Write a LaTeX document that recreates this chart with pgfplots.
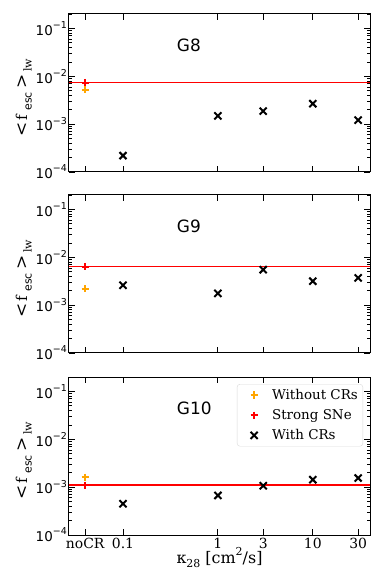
\documentclass[border=0pt]{standalone}
\usepackage{fontspec}
\setmainfont{DejaVu Serif}
\setsansfont{DejaVu Sans}
\usepackage{pgfplots}
\pgfplotsset{compat=1.18}
\definecolor{mplorange}{RGB}{255,165,0}
\newcommand{\ylabtick}{\mbox{\sffamily\fontsize{13.5}{14}\selectfont 10\raisebox{0.5em}{\fontsize{9.5}{10}\selectfont −\ifcase\ticknum\relax 4\or 3\or 2\or 1\fi}}}
\newcommand{\xt}[1]{\mbox{\fontsize{14}{14}\selectfont #1}}
\newcommand{\lowsub}[1]{\raisebox{-0.3em}{\fontsize{11}{11}\selectfont #1}}
\newcommand{\highsup}[1]{\raisebox{0.45em}{\fontsize{11}{11}\selectfont #1}}
\newcommand{\ylab}{{\fontsize{17}{17}\selectfont <}\hspace{2bp}f\hspace{4bp}\lowsub{\sffamily esc}\hspace{4bp}{\fontsize{17}{17}\selectfont >}\hspace{2bp}\lowsub{lw}}

\pgfplotsset{
  every axis/.append style={
    scale only axis, width=301bp, height=158bp,
    xmin=0.027, xmax=40, ymin=1e-4, ymax=0.2,
    xtick={0.04,0.1,1,3,10,30}, minor xtick={},
    ytick={1e-4,1e-3,1e-2,1e-1},
    minor ytick={2e-4,3e-4,4e-4,5e-4,6e-4,7e-4,8e-4,9e-4,
                 2e-3,3e-3,4e-3,5e-3,6e-3,7e-3,8e-3,9e-3,
                 2e-2,3e-2,4e-2,5e-2,6e-2,7e-2,8e-2,9e-2,2e-1},
    tick align=inside, xtick pos=both, ytick pos=both,
    major tick length=6bp, minor tick length=3.5bp,
    major tick style={black, line width=0.9bp},
    minor tick style={black, line width=0.7bp},
    axis line style={line width=1bp},
    ylabel={\ylab},
    ylabel style={font=\fontsize{15}{15}\selectfont, at={(axis description cs:-0.15,0.47)}, anchor=center},
    clip=false,
  },
  every axis plot post/.append style={
    legend image code/.code={\path[draw=none,fill=none] (0bp,-3bp) rectangle (30bp,3bp); \draw[##1] plot coordinates {(14bp,0bp)};}
  },
}

\begin{document}
\begin{tikzpicture}
\path[use as bounding box] (0,0) rectangle (382bp,581bp);

% G8
\begin{axis}[xmode=log, ymode=log, at={(69bp,409bp)}, anchor=south west, xticklabels={},
  yticklabel={\ylabtick}, yticklabel style={inner xsep=2bp}]
\addplot[red, line width=1.5bp, forget plot] coordinates {(0.027,7.4e-3) (40,7.4e-3)};
\addplot[only marks, mark=+, mark size=3.6bp, mplorange, line width=2bp] coordinates {(0.04,5.2e-3)};
\addplot[only marks, mark=+, mark size=3.6bp, red, line width=2bp] coordinates {(0.04,7.4e-3)};
\addplot[only marks, mark=x, mark size=5bp, black, line width=2bp] coordinates {(0.1,2.2e-4) (1,1.49e-3) (3,1.87e-3) (10,2.67e-3) (30,1.21e-3)};
\node[anchor=west, font=\sffamily\fontsize{17}{18}\selectfont] at (axis description cs:0.347,0.80) {G8};
\end{axis}

% G9
\begin{axis}[xmode=log, ymode=log, at={(69bp,228bp)}, anchor=south west, xticklabels={},
  yticklabel={\ylabtick}, yticklabel style={inner xsep=2bp}]
\addplot[red, line width=1.5bp, forget plot] coordinates {(0.027,6.4e-3) (40,6.4e-3)};
\addplot[only marks, mark=+, mark size=3.6bp, mplorange, line width=2bp] coordinates {(0.04,2.2e-3)};
\addplot[only marks, mark=+, mark size=3.6bp, red, line width=2bp] coordinates {(0.04,6.4e-3)};
\addplot[only marks, mark=x, mark size=5bp, black, line width=2bp] coordinates {(0.1,2.6e-3) (1,1.76e-3) (3,5.5e-3) (10,3.16e-3) (30,3.7e-3)};
\node[anchor=west, font=\sffamily\fontsize{17}{18}\selectfont] at (axis description cs:0.347,0.80) {G9};
\end{axis}

% G10
\begin{axis}[xmode=log, ymode=log, at={(69bp,46bp)}, anchor=south west,
  yticklabel={\ylabtick}, yticklabel style={inner xsep=2bp},
  xticklabels={\xt{noCR},\xt{0.1},\xt{1},\xt{3},\xt{10},\xt{30}},
  xlabel={κ\lowsub{28} [cm\highsup{2}/s]},
  xlabel style={font=\fontsize{16}{16}\selectfont, at={(axis description cs:0.5,-0.145)}, anchor=center},
  legend style={at={(axis description cs:1,1)}, anchor=north east, xshift=-7bp, yshift=-7bp,
    draw=black!15, rounded corners=3bp, fill=white, fill opacity=0.8, text opacity=1,
    font=\fontsize{13.5}{14}\selectfont, row sep=4.6bp, inner sep=3bp},
  legend cell align=left]
\addplot[red, line width=1.5bp, forget plot] coordinates {(0.027,1.12e-3) (40,1.12e-3)};
\addplot[only marks, mark=+, mark size=3.6bp, mplorange, line width=2bp] coordinates {(0.04,1.62e-3)};
\addplot[only marks, mark=+, mark size=3.6bp, red, line width=2bp] coordinates {(0.04,1.1e-3)};
\addplot[only marks, mark=x, mark size=5bp, black, line width=2bp] coordinates {(0.1,4.5e-4) (1,6.7e-4) (3,1.07e-3) (10,1.43e-3) (30,1.55e-3)};
\legend{Without CRs, Strong SNe, With CRs}
\node[anchor=west, font=\sffamily\fontsize{17}{18}\selectfont] at (axis description cs:0.347,0.80) {G10};
\end{axis}
\end{tikzpicture}
\end{document}
